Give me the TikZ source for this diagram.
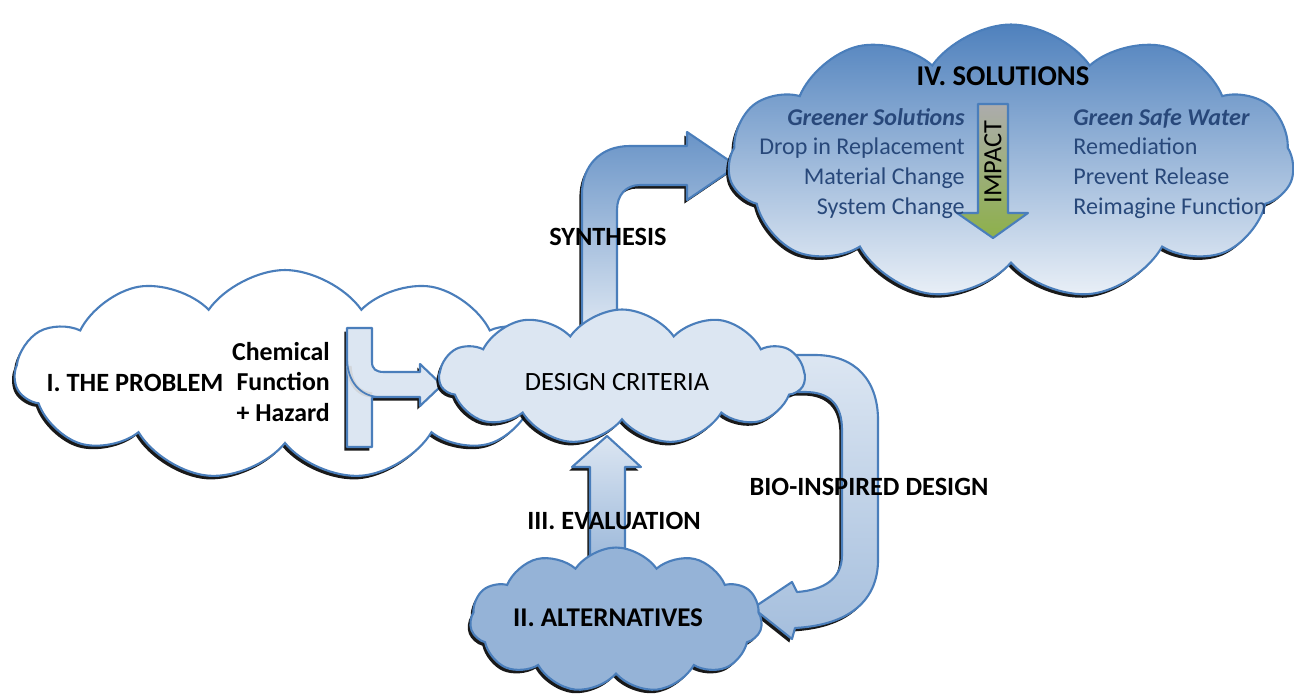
\documentclass[tikz,border=0pt]{standalone}
\usepackage{fontspec}
\setmainfont{Carlito}
\usetikzlibrary{shapes.symbols,shadows}
\definecolor{lineblue}{RGB}{74,126,187}
\definecolor{paleblue}{RGB}{220,230,242}
\definecolor{midblue}{RGB}{149,179,215}
\definecolor{deepblue}{RGB}{79,129,189}
\definecolor{soltext}{RGB}{40,72,122}
\definecolor{impactgreen}{RGB}{141,176,74}
\begin{document}
\begin{tikzpicture}[x=0.02cm,y=-0.02cm,
	puff/.style={cloud, cloud puffs=11, cloud puff arc=110, cloud ignores aspect, draw=lineblue, line width=1.2pt, inner sep=0pt,
		drop shadow={fill=black, opacity=.9, shadow xshift=-1.5pt, shadow yshift=-2pt}},
	blockarrow/.style={draw=lineblue, line width=1.2pt, line join=round,
		drop shadow={fill=black, opacity=.9, shadow xshift=-1.5pt, shadow yshift=-2pt}},
	heavy/.style={font=\bfseries\fontsize{15}{17.6}\selectfont, text=black},
	plain/.style={font=\fontsize{15}{18}\selectfont, text=black},
	solline/.style={font=\fontsize{13.7}{16}\selectfont, text=soltext, text height=1.7ex, text depth=.45ex, inner sep=0pt},
	solhead/.style={solline, font=\bfseries\itshape\fontsize{13.7}{16}\selectfont}]
	\useasboundingbox (0,0) rectangle (1294,696);
	
	% I. the problem
	\node[puff, fill=white, minimum width=10.8cm, minimum height=4.2cm] (problem) at (285,375) {};
	\node[heavy] (problemtxt) at (135,383) {I. THE PROBLEM};
	\node[heavy, font=\bfseries\fontsize{14.7}{17.6}\selectfont, align=right, anchor=east] (hazard) at (336,382) {Chemical\\Function\\+ Hazard};
	
	% merging arrow into the criteria
	\draw[blockarrow, fill=paleblue] (347,328) -- (372,328) -- (372,362) .. controls (372,369) and (376,372) .. (384,372)
		-- (420,372) -- (420,364) -- (442,385) -- (420,406) -- (420,397) -- (372,397) -- (372,447) -- (347,447) -- cycle;
	\draw[gray!40, line width=3pt, opacity=.6] (349,366) .. controls (350,386) and (360,394) .. (372,395);
	\draw[lineblue, line width=1pt] (347,360) .. controls (348,382) and (360,395) .. (377,397);
	
	% synthesis
	\draw[blockarrow, top color=deepblue!85, bottom color=paleblue] (582,330) -- (582,194) .. controls (582,166) and (600,146) .. (630,146)
		-- (687,146) -- (687,132) -- (737,166) -- (687,200) -- (687,185) -- (640,185)
		.. controls (626,185) and (617,195) .. (617,210) -- (617,330) -- cycle;
	
	% bio-inspired design
	\draw[blockarrow, top color=paleblue, bottom color=midblue!85] (775,355) -- (815,355) .. controls (855,355) and (878,380) .. (878,420)
		-- (878,560) .. controls (878,600) and (850,625) .. (795,628) -- (792,639) -- (753,608) -- (792,582) -- (797,592)
		.. controls (825,590) and (842,578) .. (842,555) -- (842,430) .. controls (842,405) and (830,392) .. (805,392) -- (775,392) -- cycle;
	
	% evaluation
	\draw[blockarrow, top color=paleblue, bottom color=midblue] (590,575) -- (590,467) -- (572,467) -- (607,436)
		-- (641,467) -- (625,467) -- (625,575) -- cycle;
	
	\node[puff, fill=paleblue, minimum width=7.3cm, minimum height=2.7cm] (criteria) at (622,377) {};
	\node[plain] (criteriatxt) at (617,382) {DESIGN CRITERIA};
	
	\node[puff, fill=midblue, minimum width=5.84cm, minimum height=2.9cm] (alternatives) at (616,620) {};
	\node[heavy, font=\bfseries\fontsize{15.4}{18}\selectfont] (alttxt) at (608,618) {II. ALTERNATIVES};
	
	% IV. solutions
	\node[puff, top color=deepblue, bottom color=paleblue!60, minimum width=11.32cm, minimum height=5.5cm] (solutions) at (1011,162) {};
	\node[heavy, font=\bfseries\fontsize{16.3}{19}\selectfont] (soltitle) at (1003,76) {IV. SOLUTIONS};
	
	\draw[draw=lineblue, line width=1.2pt, line join=round, top color=gray!65, bottom color=impactgreen]
		(978,104) -- (1008,104) -- (1008,213) -- (1028,213) -- (993,238) -- (957,213) -- (978,213) -- cycle;
	\node[plain, rotate=90] (impact) at (993,162) {IMPACT};
	
	\node[solhead, anchor=east] (greener) at (965,120) {Greener Solutions};
	\foreach \t [count=\i] in {Drop in Replacement, Material Change, System Change}
		\node[solline, anchor=east] (greener\i) at (965,120+\i*29.7) {\t};
	\node[solhead, anchor=west] (water) at (1073,120) {Green Safe Water};
	\foreach \t [count=\i] in {Remediation, Prevent Release, Reimagine Function}
		\node[solline, anchor=west] (water\i) at (1073,120+\i*29.7) {\t};
	
	% arrow labels
	\node[heavy] (synthesis) at (608,237) {SYNTHESIS};
	\node[heavy] (bio) at (869,487) {BIO-INSPIRED DESIGN};
	\node[heavy] (evaluation) at (614,521) {III. EVALUATION};
\end{tikzpicture}
\end{document}
